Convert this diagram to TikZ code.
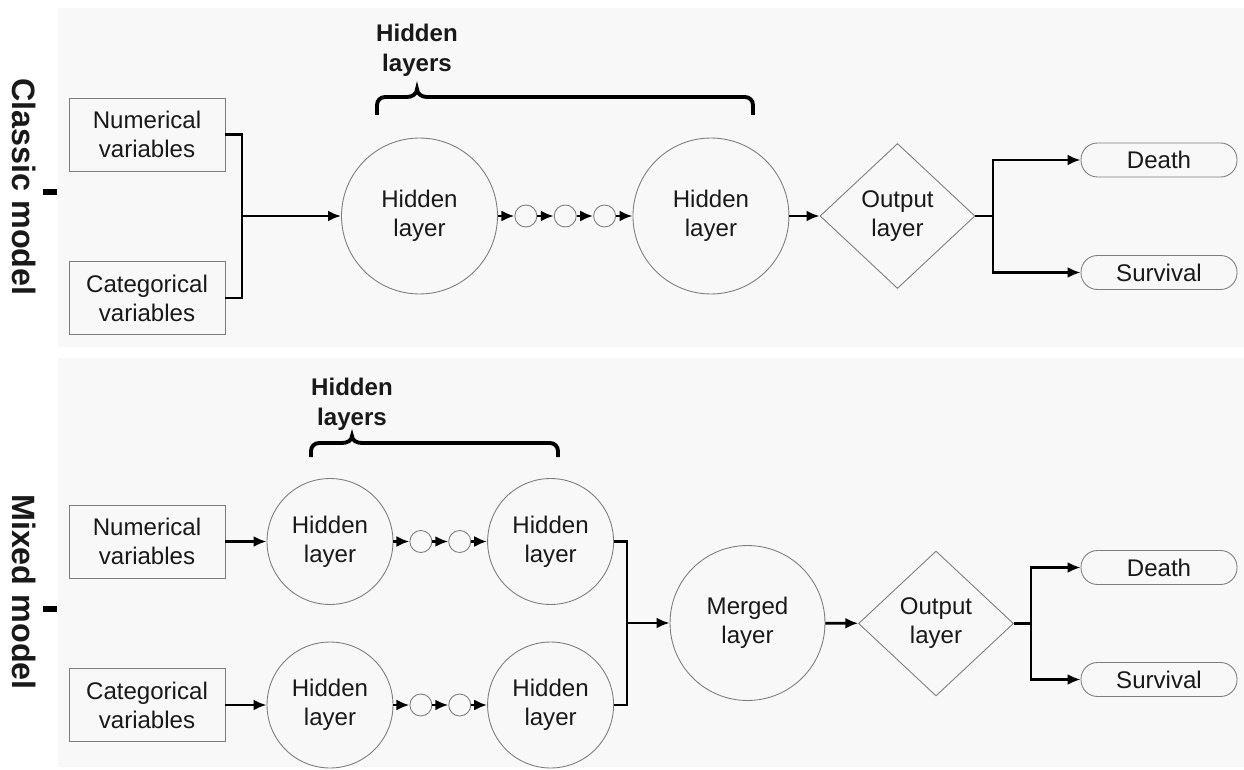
\documentclass[tikz,border=0pt]{standalone}
\usepackage{fontspec}
\setmainfont{Liberation Sans}
\usetikzlibrary{arrows.meta,positioning,shapes.geometric}
\definecolor{panelColor}{RGB}{248,248,248}
\definecolor{borderColor}{RGB}{125,125,125}
\definecolor{textColor}{RGB}{25,25,25}
\tikzset{varbox/.style={draw=borderColor, line width=.5pt, align=center, minimum width=3.12cm, minimum height=1.46cm, inner sep=1pt}}
\tikzset{layer/.style={circle, draw=borderColor, line width=.5pt, align=center, minimum size=3.12cm, inner sep=0pt}}
\tikzset{smalllayer/.style={layer, minimum size=2.52cm}}
\tikzset{tinylayer/.style={circle, draw=borderColor, line width=.5pt, minimum size=.44cm, inner sep=0pt}}
\tikzset{outlayer/.style={diamond, draw=borderColor, line width=.5pt, align=center, minimum width=3.1cm, minimum height=2.9cm, inner sep=0pt}}
\tikzset{outcome/.style={draw=borderColor, line width=.5pt, rounded corners=.33cm, minimum width=3.12cm, minimum height=.68cm, inner sep=0pt}}
\tikzset{panel/.style={fill=panelColor, draw=none}}
\tikzset{wire/.style={line width=1.6pt}}
\tikzset{link/.style={wire, -{Latex[length=2.6mm, width=2.2mm]}}}
\tikzset{bracket/.style={line width=2.2pt}}
\tikzset{modelname/.style={font=\fontsize{18.4}{22}\selectfont\bfseries, rotate=-90, inner sep=0pt}}
\tikzset{groupname/.style={font=\fontsize{13.7}{17}\selectfont\bfseries, align=center, inner sep=0pt}}
\tikzset{mark bar/.style={fill=black, minimum width=.28cm, minimum height=.12cm, inner sep=0pt}}

\begin{document}
\begin{tikzpicture}[x=0.02cm, y=-0.02cm, node distance=.33cm,
	every node/.style={text=textColor, font=\fontsize{13.7}{16.5}\selectfont}]
	% Background
	\fill[white] (0,0) rectangle (1244,770);
	\fill[panel] (58,8) rectangle (1244,347);
	\fill[panel] (58,358) rectangle (1244,767);

	% Nodes (classic model)
	\node (classic) [modelname] at (24,187) {Classic model};
	\node (classicmark) [mark bar] at (50,192) {};

	\node (num1) [varbox] at (147,134.5) {Numerical\\variables};
	\node (cat1) [varbox] at (147,298) {Categorical\\variables};

	\node (hid1a) [layer] at (419.5,216) {Hidden\\layer};
	\node (dot1a) [tinylayer, right=of hid1a] {};
	\node (dot1b) [tinylayer, right=of dot1a] {};
	\node (dot1c) [tinylayer, right=of dot1b] {};
	\node (hid1b) [layer, right=of dot1c] {Hidden\\layer};

	\node (out1) [outlayer] at (897.5,216) {Output\\layer};
	\node (death1) [outcome] at (1159,160) {Death};
	\node (surv1) [outcome] at (1159,272.5) {Survival};

	\node (group1) [groupname] at (417,50) {Hidden\\layers};
	\coordinate (join1) at (242,216);
	\coordinate (split1) at (993,216);

	% Nodes (mixed model)
	\node (mixed) [modelname] at (24,592) {Mixed model};
	\node (mixedmark) [mark bar] at (50,609) {};

	\node (num2) [varbox] at (147,541.5) {Numerical\\variables};
	\node (cat2) [varbox] at (147,705) {Categorical\\variables};

	\node (hid2a) [smalllayer] at (330,541.5) {Hidden\\layer};
	\node (dot2a) [tinylayer, right=.32cm of hid2a] {};
	\node (dot2b) [tinylayer, right=.32cm of dot2a] {};
	\node (hid2b) [smalllayer, right=.32cm of dot2b] {Hidden\\layer};

	\node (hid3a) [smalllayer] at (330,705) {Hidden\\layer};
	\node (dot3a) [tinylayer, right=.32cm of hid3a] {};
	\node (dot3b) [tinylayer, right=.32cm of dot3a] {};
	\node (hid3b) [smalllayer, right=.32cm of dot3b] {Hidden\\layer};

	\node (merged) [layer, minimum size=3.1cm] at (747.5,623) {Merged\\layer};
	\node (out2) [outlayer] at (936,623.5) {Output\\layer};
	\node (death2) [outcome] at (1159,567.5) {Death};
	\node (surv2) [outcome] at (1159,679.5) {Survival};

	\node (group2) [groupname] at (352,404) {Hidden\\layers};
	\coordinate (merge2) at (627,623);
	\coordinate (split2) at (1031,623.5);

	% Braces
	\draw[bracket] (377,115) -- (377,105) to[out=90,in=180] (385,97) -- (407,97)
		to[out=0,in=-90] (417,89) to[out=-90,in=180] (427,97) -- (745,97) to[out=0,in=90] (753,105) -- (753,115);
	\draw[bracket] (311,457) -- (311,451) to[out=90,in=180] (319,443) -- (342,443)
		to[out=0,in=-90] (352,436) to[out=-90,in=180] (362,443) -- (550,443) to[out=0,in=90] (558,451) -- (558,457);

	% Connectors (classic model)
	\draw[wire] (num1) -| (join1);
	\draw[wire] (cat1) -| (join1);
	\draw[link] (join1) -- (hid1a);
	\draw[link] (hid1a) -- (dot1a);
	\draw[link] (dot1a) -- (dot1b);
	\draw[link] (dot1b) -- (dot1c);
	\draw[link] (dot1c) -- (hid1b);
	\draw[link] (hid1b) -- (out1);
	\draw[wire] (out1) -- (split1);
	\draw[link] (split1) |- (death1);
	\draw[link] (split1) |- (surv1);

	% Connectors (mixed model)
	\draw[link] (num2) -- (hid2a);
	\draw[link] (hid2a) -- (dot2a);
	\draw[link] (dot2a) -- (dot2b);
	\draw[link] (dot2b) -- (hid2b);
	\draw[link] (cat2) -- (hid3a);
	\draw[link] (hid3a) -- (dot3a);
	\draw[link] (dot3a) -- (dot3b);
	\draw[link] (dot3b) -- (hid3b);
	\draw[wire] (hid2b) -| (merge2);
	\draw[wire] (hid3b) -| (merge2);
	\draw[link] (merge2) -- (merged);
	\draw[link] (merged) -- (out2);
	\draw[wire] (out2) -- (split2);
	\draw[link] (split2) |- (death2);
	\draw[link] (split2) |- (surv2);
\end{tikzpicture}
\end{document}
